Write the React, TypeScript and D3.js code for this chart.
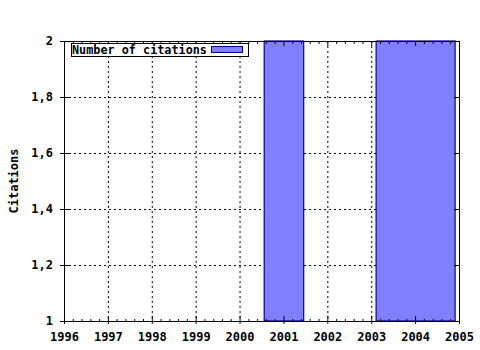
import React from "react";
import * as d3 from "d3";

const years = [2001, 2004];
const barWidths = [0.9, 1.8];
const citations = [2, 2];
const xTicks = [1996, 1997, 1998, 1999, 2000, 2001, 2002, 2003, 2004, 2005];
const yTicks = [1, 1.2, 1.4, 1.6, 1.8, 2];
const yTickLabels = ["1", "1,2", "1,4", "1,6", "1,8", "2"];
const seriesName = "Number of citations";
const yTitle = "Citations";

export default function App() {
  const W = 480, H = 350;
  const left = 64, right = 459, top = 41, bottom = 321;
  const x = d3.scaleLinear().domain([1996, 2005]).range([left, right]);
  const y = d3.scaleLinear().domain([1, 2]).range([bottom, top]);
  const font = "'DejaVu Sans Mono', monospace";
  const minor: number[] = [];
  for (let i = 0; i < xTicks.length - 1; i++) {
    for (let k = 1; k < 5; k++) minor.push(xTicks[i] + k * 0.2);
  }
  return (
    <div style={{ position: "absolute", left: 0, top: 0 }}>
      <svg width={W} height={H} style={{ display: "block", background: "#fff" }}>
        {/* grid */}
        {xTicks.slice(1, -1).map((t) => (
          <line key={"gx" + t} x1={x(t) + 0.5} x2={x(t) + 0.5} y1={top} y2={bottom}
            stroke="#000" strokeWidth={1} strokeDasharray="2,3" />
        ))}
        {yTicks.slice(1, -1).map((t) => (
          <line key={"gy" + t} x1={left} x2={right} y1={Math.round(y(t)) + 0.5} y2={Math.round(y(t)) + 0.5}
            stroke="#000" strokeWidth={1} strokeDasharray="2,3" />
        ))}
        {/* bars */}
        {years.map((yr, i) => {
          const x0 = x(yr - barWidths[i] / 2);
          const x1 = x(yr + barWidths[i] / 2);
          const yv = y(Math.min(citations[i], 2));
          return (
            <rect key={"b" + i} x={x0 + 0.5} y={yv} width={x1 - x0} height={bottom - yv}
              fill="#8080ff" stroke="#0000a0" strokeWidth={1.2} />
          );
        })}
        {/* border */}
        <rect x={left + 0.5} y={top + 0.5} width={right - left} height={bottom - top}
          fill="none" stroke="#000" strokeWidth={1} />
        {/* x ticks */}
        {xTicks.map((t) => (
          <g key={"xt" + t}>
            <line x1={x(t) + 0.5} x2={x(t) + 0.5} y1={bottom - 5} y2={bottom + 3} stroke="#000" />
            <line x1={x(t) + 0.5} x2={x(t) + 0.5} y1={top} y2={top + 5} stroke="#000" />
            <text x={x(t) + 0.5} y={bottom + 20} textAnchor="middle" fontFamily={font}
              fontWeight="bold" fontSize={12}>{t}</text>
          </g>
        ))}
        {minor.map((t, i) => (
          <g key={"mx" + i}>
            <line x1={x(t) + 0.5} x2={x(t) + 0.5} y1={bottom - 2} y2={bottom + 1} stroke="#000" />
            <line x1={x(t) + 0.5} x2={x(t) + 0.5} y1={top} y2={top + 3} stroke="#000" />
          </g>
        ))}
        {/* y ticks */}
        {yTicks.map((t, i) => (
          <g key={"yt" + t}>
            <line x1={left - 4} x2={left + 5} y1={Math.round(y(t)) + 0.5} y2={Math.round(y(t)) + 0.5} stroke="#000" />
            <line x1={right - 5} x2={right} y1={Math.round(y(t)) + 0.5} y2={Math.round(y(t)) + 0.5} stroke="#000" />
            <text x={53} y={y(t) + 4} textAnchor="end" fontFamily={font}
              fontWeight="bold" fontSize={12}>{yTickLabels[i]}</text>
          </g>
        ))}
        {/* y title */}
        <text transform={`translate(18,${(top + bottom) / 2}) rotate(-90)`} textAnchor="middle"
          fontFamily={font} fontWeight="bold" fontSize={12}>{yTitle}</text>
        {/* legend */}
        <rect x={71.5} y={43.5} width={177} height={13} fill="#fff" stroke="#000" strokeWidth={1} />
        <text x={72} y={54} fontFamily={font} fontWeight="bold" fontSize={11.8}>{seriesName}</text>
        <rect x={211.5} y={46.5} width={31} height={6} fill="#8080ff" stroke="#0000a0" strokeWidth={1} />
      </svg>
    </div>
  );
}
